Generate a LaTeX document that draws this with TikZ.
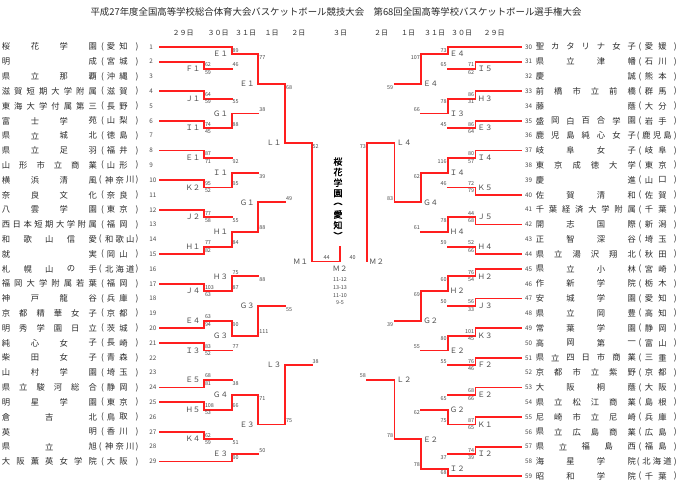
\documentclass[tikz,border=0pt]{standalone}
\usepackage{fontspec}
\newfontfamily\jp{Noto Sans CJK JP}
\newfontfamily\jpb[FakeBold=1.5]{Noto Sans CJK JP}
\pgfdeclarelayer{bg}
\pgfsetlayers{bg,main}
\definecolor{wred}{HTML}{FF1E1E}
\definecolor{lgray}{HTML}{939393}
\definecolor{txt}{HTML}{2A2A2A}
\definecolor{stxt}{HTML}{4A4A4A}
\tikzset{
  wl/.style={draw=wred,line width=1.8pt,line cap=rect},
  ll/.style={draw=lgray,line width=0.75pt},
  nm/.style={inner sep=0pt,font=\jp\fontsize{8.3}{8.3}\selectfont,text=txt},
  num/.style={inner sep=0pt,font=\jp\fontsize{6.3}{6.3}\selectfont,text=stxt},
  sc/.style={inner sep=0pt,font=\jp\fontsize{5.4}{5.4}\selectfont,text=stxt},
  lb/.style={inner sep=0pt,font=\jp\fontsize{7.4}{7.4}\selectfont,text=stxt},
  hd/.style={inner sep=0pt,font=\jp\fontsize{7}{7}\selectfont,text=txt},
  ttl/.style={inner sep=0pt,font=\jp\fontsize{9.4}{9.4}\selectfont,text=txt},
  champ/.style={inner sep=0pt,font=\jpb\fontsize{9}{9}\selectfont,text=black},
}
\newcommand\GL[1]{\begin{pgfonlayer}{bg}\draw[ll] #1;\end{pgfonlayer}}
% left match: vx, ytop, ybot, yout, xout, win(t/b), label, topscore, botscore
\newcommand\LM[9]{%
  \GL{(#1,#2) -- (#1,#3)}%
  \if#6t\draw[wl] (#1,#2) -- (#1,#4) -- (#5,#4);\else\draw[wl] (#1,#3) -- (#1,#4) -- (#5,#4);\fi
  \node[lb,anchor=east] at (#1-3.5,#4) {#7};%
  \node[sc,anchor=west] at (#1+0.8,#2+3.4) {#8};%
  \node[sc,anchor=west] at (#1+0.8,#3-4) {#9};%
}
\newcommand\RM[9]{%
  \GL{(#1,#2) -- (#1,#3)}%
  \if#6t\draw[wl] (#1,#2) -- (#1,#4) -- (#5,#4);\else\draw[wl] (#1,#3) -- (#1,#4) -- (#5,#4);\fi
  \node[lb,anchor=west] at (#1+2,#4) {#7};%
  \node[sc,anchor=east] at (#1-1,#2+3.4) {#8};%
  \node[sc,anchor=east] at (#1-1,#3-4) {#9};%
}
% left team: num, endx, w/l, n, names, pn, prefs
\newcommand\LT[7]{%
  \pgfmathsetmacro\yy{46.8+(#1-1)*14.81}%
  \if#3w\draw[wl] (159.5,\yy) -- (#2,\yy);\else\GL{(159.5,\yy) -- (#2,\yy)}\fi
  \node[num,anchor=west] at (149.2,\yy) {#1};%
  \foreach \ch [count=\k] in {#5}{\pgfmathsetmacro\xx{6+(\k-1)*86.7/(#4-1)}\node[nm] at (\xx,\yy) {\ch};}%
  \ifnum#6=2 \def\pa{111}\def\pb{123.5}\def\pp{102.5}\else\def\pa{109.3}\def\pb{130.3}\def\pp{100.3}\fi
  \node[nm] at (\pp,\yy) {(};\node[nm] at (137,\yy) {)};%
  \foreach \ch [count=\k] in {#7}{\pgfmathsetmacro\xx{\pa+(\k-1)*(\pb-\pa)/(#6-1)}\node[nm] at (\xx,\yy) {\ch};}%
}
\newcommand\RT[7]{%
  \pgfmathsetmacro\yy{46.8+(#1-30)*14.81}%
  \if#3w\draw[wl] (#2,\yy) -- (521.2,\yy);\else\GL{(#2,\yy) -- (521.2,\yy)}\fi
  \node[num,anchor=west] at (524.8,\yy) {#1};%
  \foreach \ch [count=\k] in {#5}{\pgfmathsetmacro\xx{540+(\k-1)*91.7/(#4-1)}\node[nm] at (\xx,\yy) {\ch};}%
  \ifnum#6=2 \def\pa{649}\def\pb{662.5}\def\pp{640}\else\def\pa{646.5}\def\pb{667.5}\def\pp{638.3}\fi
  \node[nm] at (\pp,\yy) {(};\node[nm] at (675.3,\yy) {)};%
  \foreach \ch [count=\k] in {#7}{\pgfmathsetmacro\xx{\pa+(\k-1)*(\pb-\pa)/(#6-1)}\node[nm] at (\xx,\yy) {\ch};}%
}
\begin{document}
\begin{tikzpicture}[x=1pt,y=-1pt]
\fill[white] (0,0) rectangle (680,485);
\useasboundingbox (0,0) rectangle (680,485);
\node[ttl] (title) at (336,12) {平成27年度全国高等学校総合体育大会バスケットボール競技大会　第68回全国高等学校バスケットボール選手権大会};
\foreach \lab/\hx in {２９日/183,３０日/218,３１日/245.5,１日/271.5,２日/298.3,３日/340,２日/381,１日/408,３１日/434.5,３０日/461.5,２９日/494}{\node[hd] at (\hx,33) {\lab};}
\foreach \sx/\sy in {204/39,231.7/39,258.3/47,285/75,311.7/90,367/90,394.4/75,421.1/47,447.7/39,475.4/39}{\GL{(\sx,27) -- (\sx,\sy)}}
% left teams
\LT{1}{231.7}{w}{4}{桜,花,学,園}{2}{愛,知}
\LT{2}{204}{w}{2}{明,成}{2}{宮,城}
\LT{3}{204}{l}{4}{県,立,那,覇}{2}{沖,縄}
\LT{4}{204}{w}{8}{滋,賀,短,期,大,学,附,属}{2}{滋,賀}
\LT{5}{204}{l}{8}{東,海,大,学,付,属,第,三}{2}{長,野}
\LT{6}{204}{w}{4}{富,士,学,苑}{2}{山,梨}
\LT{7}{204}{l}{4}{県,立,城,北}{2}{徳,島}
\LT{8}{204}{w}{4}{県,立,足,羽}{2}{福,井}
\LT{9}{204}{l}{6}{山,形,市,立,商,業}{2}{山,形}
\LT{10}{204}{w}{4}{横,浜,清,風}{3}{神,奈,川}
\LT{11}{204}{l}{4}{奈,良,文,化}{2}{奈,良}
\LT{12}{204}{w}{4}{八,雲,学,園}{2}{東,京}
\LT{13}{204}{l}{9}{西,日,本,短,期,大,学,附,属}{2}{福,岡}
\LT{14}{204}{l}{5}{和,歌,山,信,愛}{3}{和,歌,山}
\LT{15}{204}{w}{2}{就,実}{2}{岡,山}
\LT{16}{231.7}{l}{5}{札,幌,山,の,手}{3}{北,海,道}
\LT{17}{204}{w}{8}{福,岡,大,学,附,属,若,葉}{2}{福,岡}
\LT{18}{204}{l}{4}{神,戸,龍,谷}{2}{兵,庫}
\LT{19}{204}{l}{6}{京,都,精,華,女,子}{2}{京,都}
\LT{20}{204}{w}{6}{明,秀,学,園,日,立}{2}{茨,城}
\LT{21}{204}{w}{4}{純,心,女,子}{2}{長,崎}
\LT{22}{204}{l}{4}{柴,田,女,子}{2}{青,森}
\LT{23}{204}{l}{4}{山,村,学,園}{2}{埼,玉}
\LT{24}{204}{w}{6}{県,立,駿,河,総,合}{2}{静,岡}
\LT{25}{204}{w}{4}{明,星,学,園}{2}{東,京}
\LT{26}{204}{l}{3}{倉,吉,北}{2}{鳥,取}
\LT{27}{204}{w}{2}{英,明}{2}{香,川}
\LT{28}{204}{l}{3}{県,立,旭}{3}{神,奈,川}
\LT{29}{231.7}{w}{7}{大,阪,薫,英,女,学,院}{2}{大,阪}
% right teams
\RT{30}{447.7}{w}{7}{聖,カ,タ,リ,ナ,女,子}{2}{愛,媛}
\RT{31}{475.4}{w}{4}{県,立,津,幡}{2}{石,川}
\RT{32}{475.4}{l}{2}{慶,誠}{2}{熊,本}
\RT{33}{475.4}{w}{6}{前,橋,市,立,前,橋}{2}{群,馬}
\RT{34}{475.4}{l}{2}{藤,蔭}{2}{大,分}
\RT{35}{475.4}{w}{7}{盛,岡,白,百,合,学,園}{2}{岩,手}
\RT{36}{475.4}{l}{7}{鹿,児,島,純,心,女,子}{3}{鹿,児,島}
\RT{37}{475.4}{w}{4}{岐,阜,女,子}{2}{岐,阜}
\RT{38}{475.4}{l}{6}{東,京,成,徳,大,学}{2}{東,京}
\RT{39}{475.4}{l}{2}{慶,進}{2}{山,口}
\RT{40}{475.4}{w}{4}{佐,賀,清,和}{2}{佐,賀}
\RT{41}{475.4}{l}{8}{千,葉,経,済,大,学,附,属}{2}{千,葉}
\RT{42}{475.4}{w}{4}{開,志,国,際}{2}{新,潟}
\RT{43}{475.4}{l}{4}{正,智,深,谷}{2}{埼,玉}
\RT{44}{475.4}{w}{6}{県,立,湯,沢,翔,北}{2}{秋,田}
\RT{45}{475.4}{w}{4}{県,立,小,林}{2}{宮,崎}
\RT{46}{475.4}{l}{4}{作,新,学,院}{2}{栃,木}
\RT{47}{475.4}{w}{4}{安,城,学,園}{2}{愛,知}
\RT{48}{475.4}{l}{4}{県,立,岡,豊}{2}{高,知}
\RT{49}{475.4}{w}{4}{常,葉,学,園}{2}{静,岡}
\RT{50}{475.4}{l}{4}{高,岡,第,一}{2}{富,山}
\RT{51}{475.4}{w}{7}{県,立,四,日,市,商,業}{2}{三,重}
\RT{52}{475.4}{l}{6}{京,都,市,立,紫,野}{2}{京,都}
\RT{53}{475.4}{w}{4}{大,阪,桐,蔭}{2}{大,阪}
\RT{54}{475.4}{l}{6}{県,立,松,江,商,業}{2}{島,根}
\RT{55}{475.4}{w}{6}{尼,崎,市,立,尼,崎}{2}{兵,庫}
\RT{56}{475.4}{l}{6}{県,立,広,島,商,業}{2}{広,島}
\RT{57}{475.4}{w}{5}{県,立,福,島,西}{2}{福,島}
\RT{58}{475.4}{l}{4}{海,星,学,院}{3}{北,海,道}
\RT{59}{447.7}{w}{4}{昭,和,学,院}{2}{千,葉}
% left 29
\LM{204}{61.61}{76.42}{69.02}{231.7}{t}{Ｆ１}{62}{59}
\LM{204}{91.23}{106.04}{98.64}{231.7}{t}{Ｊ１}{64}{59}
\LM{204}{120.85}{135.66}{128.26}{231.7}{t}{Ｉ１}{74}{45}
\LM{204}{150.47}{165.28}{157.88}{231.7}{t}{Ｅ１}{87}{71}
\LM{204}{180.09}{194.90}{187.50}{231.7}{t}{Ｋ２}{95}{52}
\LM{204}{209.71}{224.52}{217.12}{231.7}{t}{Ｊ２}{77}{58}
\LM{204}{239.33}{254.14}{246.74}{231.7}{b}{Ｈ１}{77}{82}
\LM{204}{283.76}{298.57}{291.17}{231.7}{t}{Ｊ４}{103}{63}
\LM{204}{313.38}{328.19}{320.79}{231.7}{b}{Ｅ４}{63}{94}
\LM{204}{343.00}{357.81}{350.41}{231.7}{t}{Ｉ３}{83}{52}
\LM{204}{372.62}{387.43}{380.03}{231.7}{b}{Ｅ５}{68}{81}
\LM{204}{402.24}{417.05}{409.65}{231.7}{t}{Ｈ５}{108}{53}
\LM{204}{431.86}{446.67}{439.27}{231.7}{t}{Ｋ４}{62}{59}
% left 30
\LM{231.7}{46.80}{69.02}{54.2}{258.3}{t}{Ｅ１}{89}{46}
\LM{231.7}{98.64}{128.26}{113.45}{258.3}{b}{Ｇ１}{55}{88}
\LM{231.7}{157.88}{187.50}{172.69}{258.3}{b}{Ｉ１}{92}{95}
\LM{231.7}{217.12}{246.74}{231.93}{258.3}{b}{Ｈ１}{55}{84}
\LM{231.7}{268.95}{291.17}{276.36}{258.3}{b}{Ｈ３}{75}{87}
\LM{231.7}{320.79}{350.41}{335.60}{258.3}{t}{Ｇ３}{90}{77}
\LM{231.7}{380.03}{409.65}{394.84}{258.3}{b}{Ｇ４}{38}{66}
\LM{231.7}{439.27}{461.48}{454.08}{258.3}{b}{Ｅ３}{51}{90}
% left 31
\LM{258.3}{54.2}{113.45}{83.83}{285}{t}{Ｅ１}{77}{38}
\LM{258.3}{172.69}{231.93}{202.31}{285}{b}{Ｇ１}{39}{88}
\LM{258.3}{276.36}{335.60}{305.98}{285}{b}{Ｇ３}{88}{111}
\LM{258.3}{394.84}{454.08}{424.46}{285}{t}{Ｅ３}{71}{50}
% left 1, 2
\LM{285}{83.83}{202.31}{143.07}{311.7}{t}{Ｌ１}{68}{49}
\LM{285}{305.98}{424.46}{365.22}{311.7}{b}{Ｌ３}{55}{75}
\LM{311.7}{143.07}{365.22}{261.55}{340}{t}{Ｍ１}{52}{38}
% right 29
\RM{475.4}{61.61}{76.42}{69.02}{447.7}{t}{Ｉ５}{71}{62}
\RM{475.4}{91.23}{106.04}{98.64}{447.7}{t}{Ｈ３}{86}{31}
\RM{475.4}{120.85}{135.66}{128.26}{447.7}{t}{Ｅ３}{86}{64}
\RM{475.4}{150.47}{165.28}{157.88}{447.7}{t}{Ｉ４}{80}{57}
\RM{475.4}{180.09}{194.90}{187.50}{447.7}{b}{Ｋ５}{72}{79}
\RM{475.4}{209.71}{224.52}{217.12}{447.7}{b}{Ｊ５}{44}{68}
\RM{475.4}{239.33}{254.14}{246.74}{447.7}{b}{Ｈ４}{52}{66}
\RM{475.4}{268.95}{283.76}{276.36}{447.7}{t}{Ｈ２}{76}{54}
\RM{475.4}{298.57}{313.38}{305.98}{447.7}{t}{Ｊ３}{56}{33}
\RM{475.4}{328.19}{343.00}{335.60}{447.7}{t}{Ｋ３}{101}{45}
\RM{475.4}{357.81}{372.62}{365.22}{447.7}{t}{Ｆ２}{76}{46}
\RM{475.4}{387.43}{402.24}{394.84}{447.7}{t}{Ｅ２}{68}{66}
\RM{475.4}{417.05}{431.86}{424.46}{447.7}{t}{Ｋ１}{87}{65}
\RM{475.4}{446.67}{461.48}{454.08}{447.7}{t}{Ｉ２}{74}{39}
% right 30
\RM{447.7}{46.80}{69.02}{54.2}{421.1}{t}{Ｅ４}{73}{65}
\RM{447.7}{98.64}{128.26}{113.45}{421.1}{t}{Ｉ３}{78}{45}
\RM{447.7}{157.88}{187.50}{172.69}{421.1}{t}{Ｉ４}{116}{46}
\RM{447.7}{217.12}{246.74}{231.93}{421.1}{t}{Ｈ４}{78}{59}
\RM{447.7}{276.36}{305.98}{291.17}{421.1}{t}{Ｈ２}{60}{50}
\RM{447.7}{335.60}{365.22}{350.41}{421.1}{t}{Ｅ２}{80}{55}
\RM{447.7}{394.84}{424.46}{409.65}{421.1}{b}{Ｇ２}{65}{75}
\RM{447.7}{454.08}{476.29}{468.89}{421.1}{b}{Ｉ２}{37}{68}
% right 31
\RM{421.1}{54.2}{113.45}{83.83}{394.4}{t}{Ｅ４}{107}{66}
\RM{421.1}{172.69}{231.93}{202.31}{394.4}{t}{Ｇ４}{62}{61}
\RM{421.1}{291.17}{350.41}{320.79}{394.4}{t}{Ｇ２}{69}{55}
\RM{421.1}{409.65}{468.89}{439.27}{394.4}{b}{Ｅ２}{62}{78}
% right 1, 2
\RM{394.4}{83.83}{202.31}{143.07}{367}{b}{Ｌ４}{59}{83}
\RM{394.4}{320.79}{439.27}{380.03}{367}{b}{Ｌ２}{39}{78}
\RM{367}{143.07}{380.03}{261.55}{367}{t}{Ｍ２}{73}{58}
% final
\coordinate (fin) at (340,261.55);
\coordinate (champtop) at (340,246.7);
\coordinate (m2end) at (367,261.55);
\draw[wl] (fin) -- (champtop);
\GL{(fin) -- (m2end)}
\node[sc] (s44) at (326.7,258) {44};
\node[sc] (s40) at (352.7,258) {40};
\node[lb] (fm2) at (340,268.3) {Ｍ２};
\node[sc] (q1) at (340,280) {11-12};
\node[sc] (q2) at (340,287.6) {13-13};
\node[sc] (q3) at (340,295.2) {11-10};
\node[sc] (q4) at (340,302.8) {9-5};
\foreach \ch [count=\k] in {桜,花,学,園,︵,愛,知,︶}{\node[champ] at (338,{161.5+(\k-1)*10.6}) {\ch};}
\end{tikzpicture}
\end{document}
